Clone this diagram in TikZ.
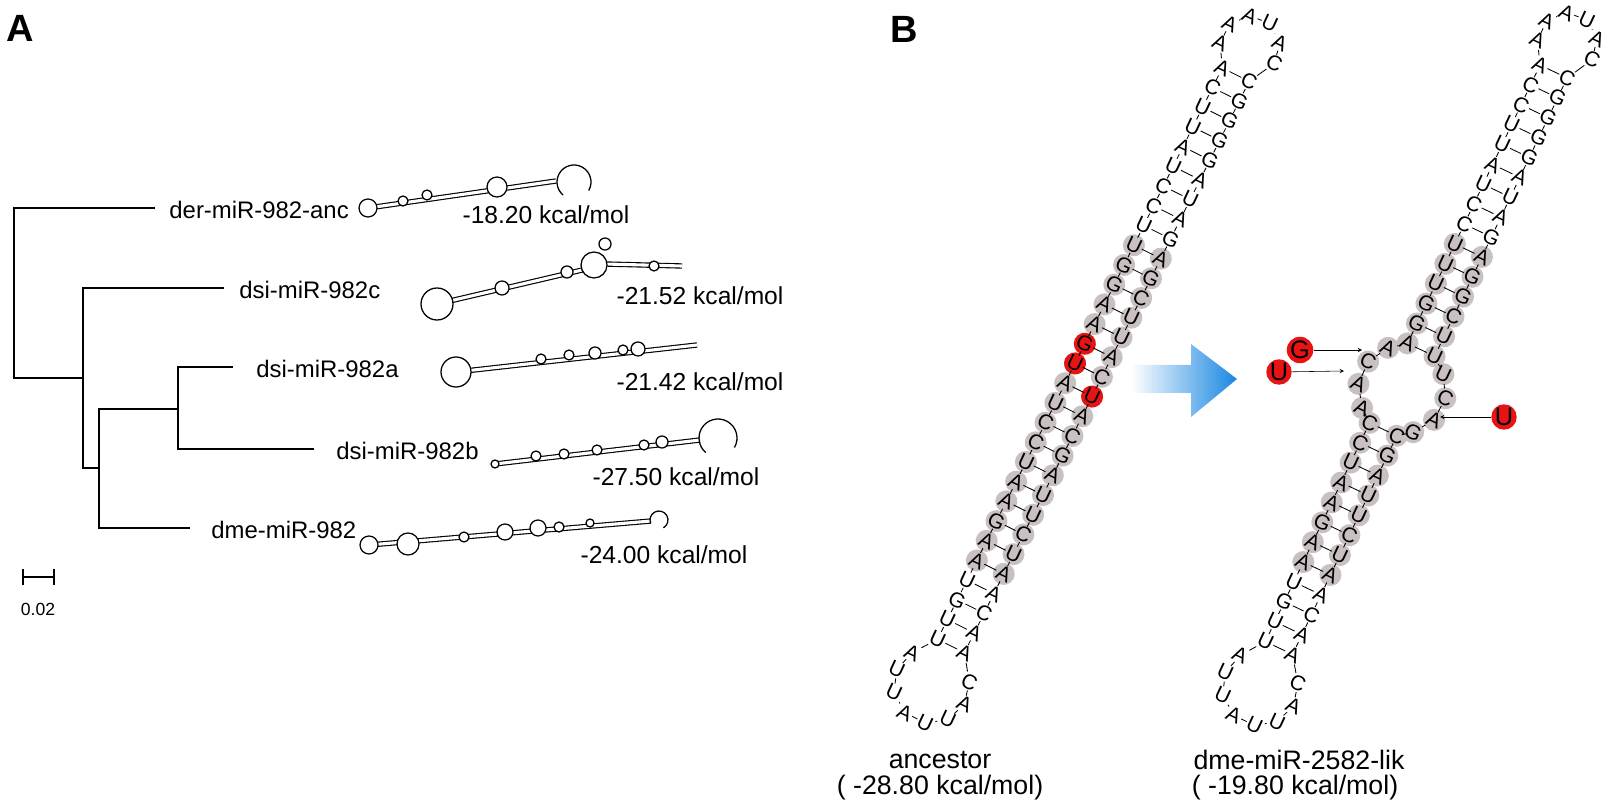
\documentclass[tikz,border=0pt]{standalone}
\usepackage{fontspec}
\setmainfont{Liberation Sans}
\usetikzlibrary{positioning, calc, backgrounds}
\definecolor{mutred}{RGB}{232,20,20}
\definecolor{arrowblue}{RGB}{25,135,225}
\tikzstyle{lab} = [font=\fontsize{17}{17}\selectfont, inner sep=0pt, anchor=west]
\tikzstyle{energy} = [font=\fontsize{17.5}{17.5}\selectfont, inner sep=0pt]
\tikzstyle{capt} = [font=\fontsize{19}{19}\selectfont, inner sep=0pt]
\tikzstyle{hp} = [draw=black, line width=0.8pt, double=white, double distance=2.2pt]
\tikzstyle{loopc} = [draw=black, line width=0.9pt, fill=white]
\tikzstyle{nt} = [font=\fontsize{15}{15}\selectfont, inner sep=0.5pt, rotate=-25]
\tikzstyle{pairshade} = [fill=black!12!red!8!gray!45]
\tikzstyle{mut} = [circle, fill=mutred, inner sep=0pt, minimum size=0.62cm, font=\fontsize{18}{18}\selectfont]
\tikzstyle{arrow} = [thin,->,>=stealth]

\begin{document}
\begin{tikzpicture}[x=0.025cm, y=-0.025cm, line width=0.6pt]
        \useasboundingbox (0,0) rectangle (1613,800);
        \node (A) at (20,28) {\fontsize{27}{27}\selectfont\bfseries A};
        \node (B) at (904,29) {\fontsize{27}{27}\selectfont\bfseries B};

        % tree
        \draw[line width=1.2pt] (155,208) -- (14,208) -- (14,378) -- (83,378);
        \draw[line width=1.2pt] (224,288) -- (83,288) -- (83,468) -- (99,468);
        \draw[line width=1.2pt] (178,409) -- (99,409) -- (99,528) -- (190,528);
        \draw[line width=1.2pt] (233,367) -- (178,367) -- (178,449) -- (314,449);
        \node (t1) [lab] at (169,210) {der-miR-982-anc};
        \node (t2) [lab] at (239,290) {dsi-miR-982c};
        \node (t3) [lab] at (256,369) {dsi-miR-982a};
        \node (t4) [lab] at (336,451) {dsi-miR-982b};
        \node (t5) [lab] at (211,530) {dme-miR-982};
        \draw[line width=1.2pt] (23,569) -- (23,585) (23,577) -- (54,577) (54,569) -- (54,585);
        \node (sc) at (38,609) {\fontsize{12.5}{12.5}\selectfont 0.02};

        % hairpins
        \draw[hp] (368,208) -- (556,181);
        \foreach \p/\r in {{403,201}/5,{427,195}/5,{497,187}/10}
            \draw[loopc] (\p) circle (\r);
        \draw[loopc] (368,208) circle (9);
        \draw[line width=0.9pt] (574,182) ++(30:17) arc (30:-230:17);
        \node (e1) [energy] at (546,215) {-18.20 kcal/mol};

        \draw[hp] (437,304) -- (595,267);
        \draw[hp] (605,264) -- (682,266);
        \foreach \p/\r in {{502,288}/7,{567,272}/6,{654,266}/5,{605,244}/6}
            \draw[loopc] (\p) circle (\r);
        \draw[loopc] (594,265) circle (13);
        \draw[loopc] (437,304) circle (16);
        \node (e2) [energy] at (700,296) {-21.52 kcal/mol};

        \draw[hp] (456,372) -- (697,345);
        \foreach \p/\r in {{541,359}/5,{569,355}/5,{595,353}/6,{623,350}/5,{638,349}/7}
            \draw[loopc] (\p) circle (\r);
        \draw[loopc] (456,372) circle (15);
        \node (e3) [energy] at (700,382) {-21.42 kcal/mol};

        \draw[hp] (495,464) -- (700,440);
        \foreach \p/\r in {{536,456}/5,{564,454}/5,{597,450}/5,{644,445}/5,{662,442}/6,{495,464}/4}
            \draw[loopc] (\p) circle (\r);
        \draw[line width=0.9pt] (718,438) ++(30:19) arc (30:-230:19);
        \node (e4) [energy] at (676,477) {-27.50 kcal/mol};

        \draw[hp] (369,545) -- (651,521);
        \foreach \p/\r in {{464,537}/5,{505,532}/8,{538,528}/8,{559,527}/5,{590,523}/4}
            \draw[loopc] (\p) circle (\r);
        \draw[loopc] (369,545) circle (9);
        \draw[loopc] (408,544) circle (11);
        \draw[line width=0.9pt] (659,520) ++(60:9) arc (60:-200:9);
        \node (e5) [energy] at (664,555) {-24.00 kcal/mol};

        % ancestor hairpin
        \begin{scope}[shift={(951,646)}, x={(0.01115cm,0.02238cm)}, y={(0.02238cm,-0.01115cm)}]
            \foreach \i in {4,...,20}
                \fill[pairshade] (22*\i,-15) circle (11) (22*\i,15) circle (11);
            \fill[mutred] (22*15,-15) circle (11) (22*14,-15) circle (11) (22*13,15) circle (11);
            \foreach \b [count=\i from 0] in {U,U,G,U,A,A,G,A,A,U,C,C,U,A,U,G,A,A,G,G,U,U,C,C,U,A,U,U,C,A}
                \node[nt] (aL\i) at (22*\i,-15) {\b};
            \foreach \b [count=\i from 0] in {A,A,C,A,A,U,C,U,U,A,G,C,A,U,C,A,U,U,C,G,A,G,A,U,A,G,G,G,G,C}
                \node[nt] (aR\i) at (22*\i,15) {\b};
            \foreach \b [count=\k] in {A,U,U,A,U,U,A,C}
                \node[nt] (aB\k) at ({-44+38*cos(-22-35*\k)},{38*sin(-22-35*\k)}) {\b};
            \foreach \b [count=\k] in {A,A,A,U,A,C}
                \node[nt] (aT\k) at ({670-30*cos(27+42*\k)},{-30*sin(27+42*\k)}) {\b};
            \foreach \i [evaluate=\i as \j using int(\i+1)] in {0,...,28}
                \draw (aL\i) -- (aL\j) (aR\i) -- (aR\j);
            \foreach \i in {0,...,29}
                \draw (aL\i) -- (aR\i);
            \draw (aL0) -- (aB1) -- (aB2) -- (aB3) -- (aB4) -- (aB5) -- (aB6) -- (aB7) -- (aB8) -- (aR0);
            \draw (aL29) -- (aT1) -- (aT2) -- (aT3) -- (aT4) -- (aT5) -- (aT6) -- (aR29);
        \end{scope}

        % derived hairpin
        \begin{scope}[shift={(1279,648)}, x={(0.01075cm,0.02258cm)}, y={(0.02258cm,-0.01075cm)}]
            \foreach \i in {4,...,11,15,16,...,20}
                \fill[pairshade] (22*\i,-15) circle (11) (22*\i,15) circle (11);
            \foreach \a in {-140,-108,-76,-44,44,76,108,140}
                \fill[pairshade] ({286+44*cos(\a)},{44*sin(\a)}) circle (11);
            \foreach \b [count=\i from 0] in {U,U,G,U,A,A,G,A,A,U,C,C,U,A,U,A,G,G,U,U,U,C,C,U,A,U,U,C,C,A}
                {\ifnum\i<12 \node[nt] (dL\i) at (22*\i,-15) {\b};
                 \else\ifnum\i>14 \node[nt] (dL\i) at (22*\i,-15) {\b};\fi\fi}
            \foreach \b [count=\i from 0] in {A,A,C,A,A,U,C,U,U,A,G,C,A,U,C,U,U,C,G,G,A,G,A,U,A,G,G,G,G,C}
                {\ifnum\i<12 \node[nt] (dR\i) at (22*\i,15) {\b};
                 \else\ifnum\i>14 \node[nt] (dR\i) at (22*\i,15) {\b};\fi\fi}
            \foreach \b/\a [count=\k] in {A/-140,A/-108,C/-76,A/-44}
                \node[nt] (dIL\k) at ({286+44*cos(\a)},{44*sin(\a)}) {\b};
            \foreach \b/\a [count=\k] in {G/140,A/108,C/76,U/44}
                \node[nt] (dIR\k) at ({286+44*cos(\a)},{44*sin(\a)}) {\b};
            \foreach \b [count=\k] in {A,U,U,A,U,U,A,C}
                \node[nt] (dB\k) at ({-44+38*cos(-22-35*\k)},{38*sin(-22-35*\k)}) {\b};
            \foreach \b [count=\k] in {A,A,A,U,A,C}
                \node[nt] (dT\k) at ({670-30*cos(27+42*\k)},{-30*sin(27+42*\k)}) {\b};
            \foreach \i [evaluate=\i as \j using int(\i+1)] in {0,...,10,15,16,...,28}
                \draw (dL\i) -- (dL\j) (dR\i) -- (dR\j);
            \foreach \i in {0,...,11,15,16,...,29}
                \draw (dL\i) -- (dR\i);
            \draw (dL11) -- (dIL1) -- (dIL2) -- (dIL3) -- (dIL4) -- (dL15);
            \draw (dR11) -- (dIR1) -- (dIR2) -- (dIR3) -- (dIR4) -- (dR15);
            \draw (dL0) -- (dB1) -- (dB2) -- (dB3) -- (dB4) -- (dB5) -- (dB6) -- (dB7) -- (dB8) -- (dR0);
            \draw (dL29) -- (dT1) -- (dT2) -- (dT3) -- (dT4) -- (dT5) -- (dT6) -- (dR29);
        \end{scope}

        % big arrow
        \shade[left color=white, right color=arrowblue] (1131,365) -- (1191,365) -- (1191,344)
            -- (1237,379) -- (1191,417) -- (1191,393) -- (1131,393) -- cycle;

        % mutations
        \node (mG) [mut] at (1300,350) {G};
        \node (mU1) [mut] at (1279,372) {U};
        \node (mU2) [mut] at (1504,417) {U};
        \coordinate (pG) at (1362,350);
        \coordinate (pU1) at (1344,371);
        \coordinate (pU2) at (1440,417);
        \draw[arrow] (mG) -- (pG);
        \draw[arrow] (mU1) -- (pU1);
        \draw[arrow] (mU2) -- (pU2);

        \node (n1) [capt] at (940,760) {ancestor};
        \node (n2) [capt] at (940,788) {( -28.80 kcal/mol)};
        \node (n3) [capt] at (1299,760) {dme-miR-2582-lik};
        \node (n4) [capt] at (1295,788) {( -19.80 kcal/mol)};
\end{tikzpicture}
\end{document}
